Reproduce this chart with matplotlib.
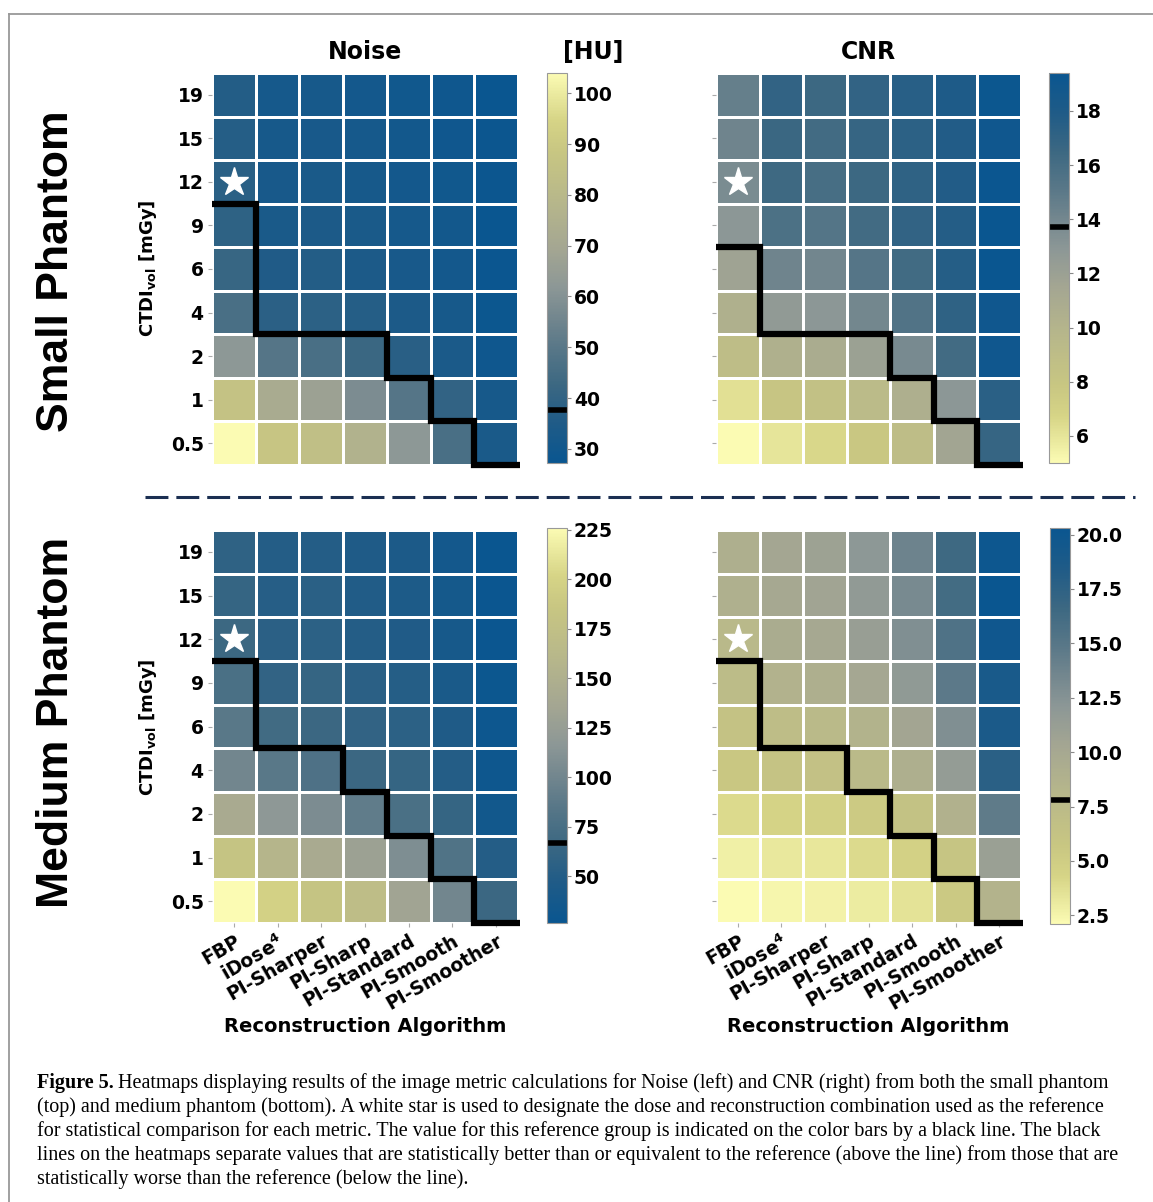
import numpy as np
import matplotlib
matplotlib.use("Agg")
import matplotlib.pyplot as plt
from matplotlib.colors import LinearSegmentedColormap, Normalize
from matplotlib.lines import Line2D

W, H = 1153, 1202

# ── Data ──────────────────────────────────────────────────────
doses = ["19", "15", "12", "9", "6", "4", "2", "1", "0.5"]
algorithms = ["FBP", r"iDose$^\mathbf{4}$", "PI-Sharper", "PI-Sharp",
              "PI-Standard", "PI-Smooth", "PI-Smoother"]

noise_small = [
    [36.0, 31.5, 32.0, 31.0, 30.0, 29.0, 27.2],
    [36.5, 32.0, 32.5, 31.5, 30.5, 29.5, 27.8],
    [37.7, 32.5, 33.0, 32.0, 31.0, 30.0, 28.0],
    [39.0, 33.0, 34.0, 33.0, 31.5, 30.5, 27.4],
    [41.5, 35.0, 36.0, 34.0, 32.5, 31.0, 27.6],
    [46.0, 38.0, 38.5, 36.5, 34.0, 32.0, 28.2],
    [62.0, 49.0, 46.0, 42.0, 37.5, 33.5, 29.0],
    [86.0, 72.0, 67.0, 58.0, 49.0, 40.0, 32.0],
    [104.0, 88.0, 84.0, 76.0, 62.0, 46.0, 33.0],
]
cnr_small = [
    [14.6, 17.0, 16.5, 17.0, 17.5, 18.0, 19.2],
    [14.2, 16.6, 16.2, 16.8, 17.3, 17.8, 19.0],
    [13.7, 16.4, 16.0, 16.5, 17.1, 17.8, 19.3],
    [12.9, 15.7, 15.4, 16.2, 17.0, 17.7, 19.4],
    [11.8, 14.2, 14.1, 15.3, 16.3, 17.6, 19.4],
    [10.4, 12.6, 12.9, 14.0, 15.5, 17.1, 19.0],
    [9.0, 10.4, 10.9, 12.0, 13.8, 16.2, 19.0],
    [6.2, 8.0, 8.5, 9.3, 10.6, 12.9, 17.4],
    [5.0, 6.0, 6.6, 7.8, 9.0, 11.6, 16.8],
]
noise_medium = [
    [58, 50, 50, 46, 44, 36.5, 26.5],
    [62, 52, 54, 48, 45, 37, 27.5],
    [67, 55, 56, 50, 47, 39, 28],
    [76, 60, 62, 55, 51, 42, 29],
    [86, 70, 66, 60, 56, 46, 30],
    [100, 86, 78, 66, 62, 50, 31],
    [142, 118, 106, 90, 76, 62, 35],
    [182, 158, 142, 130, 108, 80, 50],
    [226, 198, 182, 170, 134, 100, 66],
]
cnr_medium = [
    [9.2, 10.3, 10.8, 12.0, 13.8, 16.5, 20.0],
    [9.0, 10.0, 10.5, 11.7, 13.2, 16.2, 20.3],
    [7.8, 9.5, 10.0, 11.2, 12.8, 15.5, 19.8],
    [7.3, 8.7, 9.2, 10.2, 11.8, 14.7, 19.0],
    [6.3, 7.2, 7.6, 8.6, 10.4, 12.8, 18.8],
    [5.6, 6.2, 6.5, 7.6, 9.2, 11.5, 17.8],
    [4.0, 4.4, 4.7, 5.3, 6.4, 8.8, 14.6],
    [2.8, 3.2, 3.3, 4.0, 4.6, 6.0, 11.0],
    [2.1, 2.4, 2.6, 3.0, 3.5, 5.4, 8.5],
]

# row index (from top) of the significance boundary, per column
bound_noise_small = [3, 6, 6, 6, 7, 8, 9]
bound_cnr_small = [4, 6, 6, 6, 7, 8, 9]
bound_noise_medium = [3, 5, 5, 6, 7, 8, 9]
bound_cnr_medium = [3, 5, 5, 6, 7, 8, 9]

ref_row, ref_col = 2, 0  # 12 mGy, FBP

ticks_noise_small = [30, 40, 50, 60, 70, 80, 90, 100]
ticks_cnr_small = [6, 8, 10, 12, 14, 16, 18]
ticks_noise_medium = [50, 75, 100, 125, 150, 175, 200, 225]
ticks_cnr_medium = [2.5, 5.0, 7.5, 10.0, 12.5, 15.0, 17.5, 20.0]

caption_lines = [
    "Heatmaps displaying results of the image metric calculations for Noise (left) and CNR (right) from both the small phantom",
    "(top) and medium phantom (bottom). A white star is used to designate the dose and reconstruction combination used as the reference",
    "for statistical comparison for each metric. The value for this reference group is indicated on the color bars by a black line. The black",
    "lines on the heatmaps separate values that are statistically better than or equivalent to the reference (above the line) from those that are",
    "statistically worse than the reference (below the line).",
]

# ── Colours ────────────────────────────────────────────────────
blue_yellow = LinearSegmentedColormap.from_list("blue_yellow", [
    (0.00, "#0a5690"), (0.10, "#1f5b87"), (0.20, "#3c6882"),
    (0.30, "#5a7888"), (0.37, "#72868e"), (0.45, "#8c9796"),
    (0.55, "#a4a692"), (0.68, "#b8b88a"), (0.80, "#c8c682"),
    (0.88, "#d6d486"), (1.00, "#fbfbb3"),
])
yellow_blue = blue_yellow.reversed()

plt.rcParams["font.family"] = "DejaVu Sans"
plt.rcParams["font.weight"] = "bold"

fig = plt.figure(figsize=(W / 100, H / 100), dpi=100)


def px_rect(x0, y0, x1, y1):
    return [x0 / W, 1 - y1 / H, (x1 - x0) / W, (y1 - y0) / H]


def heatmap(rect, crect, values, cmap, bounds, ticks, fmt, ylabels, xlabels):
    data = np.array(values, dtype=float)
    ax = fig.add_axes(px_rect(*rect))
    cax = fig.add_axes(px_rect(*crect))
    norm = Normalize(data.min(), data.max())
    mesh = ax.pcolormesh(data, cmap=cmap, norm=norm, edgecolors="white", linewidth=1.0)
    ax.set_xlim(0, 7)
    ax.set_ylim(9, 0)
    for s in ax.spines.values():
        s.set_visible(False)

    ax.set_yticks(np.arange(9) + 0.5)
    ax.tick_params(axis="y", length=3, width=0.8, color="#aaaaaa", labelsize=13.5, pad=3)
    ax.set_yticklabels(doses if ylabels else [], fontweight="bold")
    if xlabels:
        ax.set_xticks(np.arange(7) + 0.5)
        ax.tick_params(axis="x", length=3, width=0.8, color="#aaaaaa", pad=3)
        ax.set_xticklabels(algorithms, rotation=30, ha="right",
                           rotation_mode="anchor", fontweight="bold", fontsize=13.5)
    else:
        ax.set_xticks([])

    # significance staircase
    xs, ys = [], []
    for i, b in enumerate(bounds):
        xs += [i, i + 1]
        ys += [b, b]
    xs[-1] = 7.05
    ax.plot(xs, ys, color="black", lw=4.5, clip_on=False,
            solid_capstyle="butt", solid_joinstyle="miter", zorder=5)

    # reference star
    ax.plot(ref_col + 0.5, ref_row + 0.5, marker="*", color="white",
            mec="white", ms=21, zorder=6)

    cb = fig.colorbar(mesh, cax=cax, ticks=ticks)
    cb.outline.set_edgecolor("#999999")
    cb.outline.set_linewidth(0.8)
    cax.tick_params(length=3, width=0.8, color="#888888", labelsize=13.5, pad=2)
    cax.set_yticklabels([fmt.format(t) for t in ticks], fontweight="bold")
    cax.axhline(data[ref_row, ref_col], color="black", lw=4)
    return ax


heatmap((212, 73, 518, 465), (547, 73, 567, 463), noise_small, blue_yellow,
        bound_noise_small, ticks_noise_small, "{:d}", True, False)
heatmap((716, 73, 1021, 465), (1049, 73, 1069, 463), cnr_small, yellow_blue,
        bound_cnr_small, ticks_cnr_small, "{:d}", False, False)
heatmap((212, 530, 518, 923), (547, 528, 567, 923), noise_medium, blue_yellow,
        bound_noise_medium, ticks_noise_medium, "{:d}", True, True)
heatmap((716, 530, 1021, 923), (1050, 528, 1070, 924), cnr_medium, yellow_blue,
        bound_cnr_medium, ticks_cnr_medium, "{:.1f}", False, True)

# ── Titles and labels ─────────────────────────────────────────
def ftext(x, y, s, **kw):
    return fig.text(x / W, 1 - y / H, s, ha="center", va="center", **kw)


ftext(365, 52, "Noise", fontsize=17, fontweight="bold")
ftext(593, 52, "[HU]", fontsize=17, fontweight="bold")
ftext(868, 52, "CNR", fontsize=17, fontweight="bold")

ftext(57, 271, "Small Phantom", fontsize=32, fontweight="bold",
      family="Liberation Sans", rotation=90)
ftext(57, 722, "Medium Phantom", fontsize=32, fontweight="bold",
      family="Liberation Sans", rotation=90)

for yc in (268, 727):
    ftext(148, yc, r"CTDI$_{\mathbf{vol}}$ [mGy]", fontsize=13, fontweight="bold",
          rotation=90)
for xc in (365, 868):
    ftext(xc, 1027, "Reconstruction Algorithm", fontsize=14, fontweight="bold")

# dashed separator
fig.add_artist(Line2D([145 / W, 1135 / W], [1 - 497 / H] * 2, transform=fig.transFigure,
                      color="#1b2f52", lw=2.2, dashes=(7.5, 2.6)))

# page frame
fig.add_artist(Line2D([9 / W, 1.0], [1 - 14 / H] * 2, transform=fig.transFigure,
                      color="#999999", lw=1.3))
fig.add_artist(Line2D([9 / W, 9 / W], [0, 1 - 14 / H], transform=fig.transFigure,
                      color="#999999", lw=1.3))

# ── Caption ───────────────────────────────────────────────────
cap_size = 14.5
cap_font = "Liberation Serif"
renderer = fig.canvas.get_renderer()
y0 = 1083
head = fig.text(37 / W, 1 - y0 / H, "Figure 5.", fontsize=cap_size, family=cap_font,
                fontweight="bold", va="center", ha="left")
hw = head.get_window_extent(renderer).width
fig.text((37 + hw + 4) / W, 1 - y0 / H, caption_lines[0], fontsize=cap_size,
         family=cap_font, fontweight="normal", va="center", ha="left")
for i, line in enumerate(caption_lines[1:], start=1):
    fig.text(37 / W, 1 - (y0 + 24 * i) / H, line, fontsize=cap_size, family=cap_font,
             fontweight="normal", va="center", ha="left")

fig.savefig("out.png", dpi=100)
